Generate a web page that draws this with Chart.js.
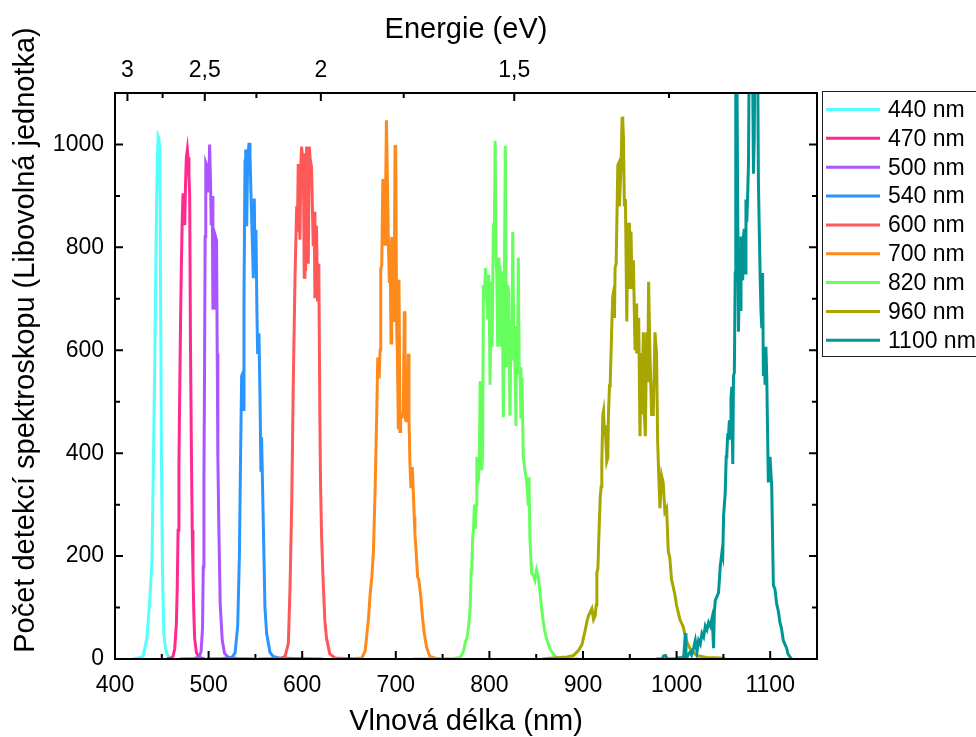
<!DOCTYPE html>
<html>
<head>
<meta charset="utf-8">
<script src="https://cdn.jsdelivr.net/npm/chart.js@4/dist/chart.umd.min.js"></script>
<style>
  html, body { margin: 0; padding: 0; background: #ffffff; overflow: hidden; }
  canvas { display: block; }
</style>
</head>
<body>
<canvas id="chart" width="976" height="737"></canvas>
<script>
// ---------------- data ----------------
const seriesLabels = ['440 nm', '470 nm', '500 nm', '540 nm', '600 nm', '700 nm', '820 nm', '960 nm', '1100 nm'];
const seriesColors = ['#55FFFF', '#FF2A8E', '#AA55FF', '#2B95FF', '#FF5858', '#FF8A1C', '#66FF5E', '#A8A600', '#009696'];

const wl440 = [419, 425, 430, 434, 437, 439.5, 441, 442.6, 444.3, 445.3, 446.1, 447, 447.9, 448.6, 449.6, 450.7, 452.1, 454, 456, 458, 460];
const v440  = [0, 2, 5, 40, 110, 190, 380, 590, 870, 980, 1015, 1010, 990, 750, 393, 179, 50, 20, 8, 3, 1];

const wl470 = [455, 460, 462, 463.8, 465.6, 466.5, 467.4, 468.3, 469.1, 470, 470.9, 471.8, 472.7, 473.6, 474.5, 475.3, 476.2, 477.3, 478, 479, 479.8, 480.6, 481.6, 482.5, 483.3, 484.2, 485.1, 487, 490, 496];
const v470  = [0, 2, 5, 20, 70, 140, 250, 380, 510, 650, 765, 850, 905, 880, 843, 920, 973, 990, 975, 940, 900, 620, 410, 250, 170, 90, 40, 12, 3, 0];

const wl500 = [469, 485, 490, 492, 493.5, 494.3, 495, 495.6, 496.3, 497, 498.3, 500, 501.1, 502.1, 502.8, 503.9, 504.6, 505.6, 506.7, 507.4, 508.5, 509.2, 509.9, 511, 512.4, 514.6, 517, 520.5, 530, 548];
const v500  = [0, 1, 4, 15, 60, 179, 350, 536, 821, 964, 957, 907, 1000, 921, 843, 900, 679, 764, 679, 821, 814, 593, 393, 250, 107, 36, 11, 4, 1, 0];

const wl540 = [498, 515, 525, 528.3, 531.1, 532.9, 534.2, 535.3, 536.4, 537.1, 537.8, 538.9, 539.6, 540.7, 541.7, 543.2, 544.2, 545.3, 546.7, 547.8, 548.8, 549.6, 550.6, 551.7, 552.4, 553.8, 554.9, 555.9, 556.6, 557.7, 558.8, 560.2, 562, 565.6, 569, 575, 590, 622];
const v540  = [0, 1, 3, 12, 65, 200, 400, 550, 555, 485, 700, 968, 990, 841, 968, 1003, 982, 901, 814, 740, 895, 767, 834, 666, 593, 633, 512, 364, 431, 330, 230, 100, 50, 13, 5, 2, 1, 0];

const wl600 = [553, 570, 578, 581.7, 585.2, 587, 588.8, 590.5, 592.3, 594.1, 594.8, 595.8, 597.6, 598.7, 599.4, 600.3, 601.2, 602.2, 602.9, 603.7, 604.7, 605.8, 606.5, 607.5, 608.6, 610, 611.8, 612.8, 613.6, 615.3, 616.4, 617.1, 617.8, 618.9, 619.6, 620.7, 622.4, 624.2, 626, 629.5, 635, 646, 663];
const v600  = [0, 1, 2, 5, 30, 140, 300, 540, 740, 880, 830, 962, 815, 970, 996, 970, 983, 742, 983, 754, 996, 916, 768, 996, 970, 956, 802, 869, 701, 842, 695, 768, 755, 466, 340, 240, 150, 75, 40, 10, 2, 1, 0];

const wl700 = [640, 656, 663.7, 667.3, 670.8, 672.6, 674.4, 676.1, 677.9, 679.7, 680.7, 681.4, 682.2, 683.2, 683.9, 685, 686.1, 687.5, 688.5, 689.3, 690, 691.4, 692.1, 693.1, 693.9, 694.9, 695.6, 696.7, 698.1, 699.2, 699.9, 700.9, 701.7, 702.7, 703.4, 704.5, 705.2, 706.3, 708, 709.1, 709.8, 710.9, 711.9, 713.4, 714.1, 715.1, 716.2, 717.6, 718.7, 719.7, 720.4, 721.5, 723.3, 724.7, 726.8, 728.3, 730.4, 732.9, 736.4, 741.7, 747];
const v700  = [0, 1, 2, 16, 78, 126, 160, 208, 330, 483, 586, 579, 545, 600, 758, 765, 930, 930, 806, 937, 1047, 889, 806, 731, 806, 614, 820, 792, 655, 999, 992, 648, 590, 449, 737, 442, 469, 470, 480, 676, 469, 463, 480, 593, 469, 380, 332, 373, 325, 277, 243, 215, 160, 153, 119, 85, 50, 23, 5, 2, 0];

const wl820 = [719, 742, 762, 768.8, 772.4, 774.3, 775.9, 777.8, 779.5, 780.6, 781.2, 782.1, 783, 784, 784.8, 785.8, 786.6, 787.4, 788.3, 789.3, 790.1, 791, 791.9, 792.8, 793.6, 794.7, 795.8, 797.2, 798.3, 799.3, 800, 800.7, 801.8, 802.9, 804.3, 805.3, 806.1, 807.1, 807.8, 808.9, 810, 810.7, 811.4, 812.4, 813.5, 814.9, 816, 817, 817.8, 818.5, 819.5, 820.6, 822, 823.1, 824.1, 824.9, 825.9, 827.3, 828.4, 829.1, 830.2, 830.9, 831.9, 832.7, 833.7, 834.8, 836.2, 838, 839.7, 841.5, 842.3, 843.3, 845.1, 846.8, 848.6, 850.4, 852.2, 853.9, 855.7, 857.5, 859.3, 861, 864.6, 868.1, 871.7, 877, 896];
const v820  = [0, 0, 1, 3, 15, 33, 40, 63, 100, 173, 180, 233, 253, 300, 253, 300, 393, 340, 350, 393, 540, 393, 367, 400, 727, 700, 760, 700, 660, 747, 660, 533, 733, 607, 847, 833, 1007, 780, 753, 607, 780, 760, 760, 607, 753, 470, 727, 997, 720, 567, 727, 713, 473, 660, 580, 830, 647, 567, 453, 647, 607, 780, 553, 567, 467, 547, 393, 367, 347, 300, 353, 233, 167, 163, 153, 173, 160, 133, 100, 73, 53, 40, 20, 10, 3, 1, 0];

const wl960 = [857, 867, 875.8, 882.9, 890, 895.3, 898.9, 900.6, 902.4, 904.2, 905.9, 907.7, 909.5, 911.3, 913, 914.1, 914.8, 915.9, 917.3, 918.4, 919.4, 920.1, 921.2, 921.9, 923, 923.7, 925.4, 926.5, 927.2, 928.3, 929, 930.8, 931.8, 932.5, 933.6, 934.3, 935.4, 937.2, 938.2, 938.9, 940.7, 941.8, 942.5, 943.2, 944.2, 945.3, 946.8, 947.8, 949.6, 950.3, 951.3, 952.4, 953.8, 955.6, 956.7, 957.4, 958.4, 959.5, 960.9, 962, 962.7, 964.5, 965.5, 966.6, 968, 969.1, 970.1, 971.5, 973.3, 975.1, 976.9, 978.6, 979.7, 980.8, 982.2, 984, 985.7, 987.5, 989.3, 991.1, 992.8, 994.6, 996.4, 998.1, 999.9, 1001.7, 1003.5, 1005.2, 1007, 1008.8, 1010.6, 1012.3, 1014.1, 1017.6, 1021.2, 1032, 1047, 1052];
const v960  = [0, 2, 3, 4, 7, 17, 28, 42, 56, 73, 84, 91, 98, 77, 84, 105, 168, 175, 258, 314, 335, 384, 475, 482, 433, 454, 384, 391, 475, 531, 531, 649, 705, 712, 663, 761, 768, 960, 964, 880, 964, 1054, 1045, 1013, 880, 894, 656, 845, 845, 719, 831, 719, 775, 600, 691, 594, 615, 663, 433, 594, 475, 635, 475, 433, 635, 538, 733, 594, 475, 475, 635, 594, 426, 363, 293, 356, 342, 286, 293, 210, 196, 154, 140, 126, 105, 91, 77, 70, 63, 49, 35, 28, 21, 14, 7, 3, 2, 0];

const wl1100 = [978, 984.6, 986, 988.1, 990, 998, 1000.5, 1005, 1007.6, 1009.4, 1010, 1011.2, 1013, 1014.7, 1016, 1018.2, 1020, 1021.8, 1023.5, 1025.3, 1027.1, 1028.9, 1030.7, 1032.4, 1034.2, 1036, 1037.8, 1038.5, 1039.5, 1040.3, 1041.3, 1043.1, 1044.8, 1046.6, 1048.4, 1049.3, 1050.2, 1051.9, 1053, 1053.7, 1054.6, 1055.5, 1056.4, 1057.3, 1058.1, 1059, 1060, 1060.8, 1061.7, 1062.6, 1063.2, 1063.6, 1064.3, 1065.2, 1066.1, 1067, 1067.9, 1068.8, 1069.7, 1070.6, 1071.4, 1072.3, 1073.2, 1074.1, 1075, 1075.9, 1076.8, 1077.8, 1078.5, 1080.3, 1081.2, 1082.1, 1083, 1083.9, 1085.6, 1086.5, 1087.4, 1088.3, 1089.2, 1090.1, 1091, 1091.9, 1092.7, 1093.6, 1094.5, 1095.4, 1096.3, 1098, 1099.8, 1101.6, 1103.4, 1105.1, 1106.9, 1108.7, 1110.4, 1112, 1114, 1117.6, 1119, 1121.1, 1123];
const v1100  = [0, 0, 6, 7, 0, 0, 2, 3, 4, 50, 0, 4, 10, 14, 8, 21, 36, 14, 36, 29, 50, 43, 64, 57, 71, 64, 79, 60, 21, 90, 114, 121, 129, 179, 207, 200, 279, 321, 393, 400, 436, 436, 464, 429, 507, 529, 379, 550, 557, 750, 1150, 1300, 1200, 900, 636, 729, 679, 821, 750, 736, 821, 836, 750, 893, 850, 900, 964, 1250, 1350, 1300, 1150, 943, 1014, 1300, 1400, 1200, 929, 836, 750, 679, 643, 750, 550, 600, 536, 607, 550, 343, 393, 336, 143, 136, 107, 93, 71, 60, 36, 21, 10, 4, 0];

const seriesX = [wl440, wl470, wl500, wl540, wl600, wl700, wl820, wl960, wl1100];
const seriesY = [v440, v470, v500, v540, v600, v700, v820, v960, v1100];

// axes
const xTickValues = [400, 500, 600, 700, 800, 900, 1000, 1100];
const xMinorTickValues = [450, 550, 650, 750, 850, 950, 1050];
const yTickValues = [0, 200, 400, 600, 800, 1000];
const yMinorTickValues = [100, 300, 500, 700, 900];
const energyTicks = [3, 2.5, 2, 1.5];
const energyTickLabels = ['3', '2,5', '2', '1,5'];
const energyMinorTicks = [2.75, 2.25, 1.75, 1.25];
const HC = 1239.84; // eV*nm, wavelength = HC / energy

const xTitle = 'Vlnová délka (nm)';
const yTitle = 'Počet detekcí spektroskopu (Libovolná jednotka)';
const topTitle = 'Energie (eV)';

// ---------------- chart ----------------
const FONT = "'Liberation Sans', Arial, Helvetica, sans-serif";
Chart.defaults.font.family = FONT;
Chart.defaults.color = '#000';

const datasets = seriesLabels.map((label, i) => ({
  label,
  data: seriesX[i].map((x, k) => ({ x, y: seriesY[i][k] })),
  borderColor: seriesColors[i],
  backgroundColor: seriesColors[i],
  borderWidth: 3,
  pointRadius: 0,
  showLine: true,
  tension: 0,
  order: seriesLabels.length - i
}));

const decor = {
  id: 'decor',
  afterDatasetsDraw(chart) {
    const { ctx, chartArea: a, scales } = chart;
    const xs = scales.x, ys = scales.y;
    const MAJ = 8, MIN = 5;
    ctx.save();
    ctx.strokeStyle = '#000';
    ctx.lineWidth = 2;
    ctx.beginPath();
    const seg = (x1, y1, x2, y2) => { ctx.moveTo(x1, y1); ctx.lineTo(x2, y2); };
    xTickValues.forEach(v => { const p = xs.getPixelForValue(v); seg(p, a.bottom, p, a.bottom - MAJ); });
    xMinorTickValues.forEach(v => { const p = xs.getPixelForValue(v); seg(p, a.bottom, p, a.bottom - MIN); });
    yTickValues.forEach(v => { const p = ys.getPixelForValue(v); seg(a.left, p, a.left + MAJ, p); seg(a.right, p, a.right - MAJ, p); });
    yMinorTickValues.forEach(v => { const p = ys.getPixelForValue(v); seg(a.left, p, a.left + MIN, p); seg(a.right, p, a.right - MIN, p); });
    energyTicks.forEach(e => { const p = xs.getPixelForValue(HC / e); seg(p, a.top, p, a.top + MAJ); });
    energyMinorTicks.forEach(e => { const p = xs.getPixelForValue(HC / e); seg(p, a.top, p, a.top + MIN); });
    ctx.stroke();
    ctx.strokeRect(a.left, a.top, a.right - a.left, a.bottom - a.top);
    ctx.restore();
  },
  afterDraw(chart) {
    const { ctx } = chart;
    ctx.save();
    // y axis title
    ctx.fillStyle = '#000';
    ctx.font = '29px ' + FONT;
    ctx.textAlign = 'center';
    ctx.textBaseline = 'middle';
    ctx.translate(26, 340);
    ctx.rotate(-Math.PI / 2);
    ctx.fillText(yTitle, 0, 0);
    ctx.restore();

    // legend
    ctx.save();
    ctx.strokeStyle = '#222';
    ctx.lineWidth = 1;
    ctx.strokeRect(822.5, 91.5, 200, 265);
    ctx.font = '23px ' + FONT;
    ctx.textAlign = 'left';
    ctx.textBaseline = 'middle';
    chart.data.datasets.forEach((ds, i) => {
      const yy = 109.5 + i * 28.85;
      ctx.strokeStyle = ds.borderColor;
      ctx.lineWidth = 3;
      ctx.beginPath();
      ctx.moveTo(826, yy);
      ctx.lineTo(880, yy);
      ctx.stroke();
      ctx.fillStyle = '#000';
      ctx.fillText(ds.label, 888, yy + 1);
    });
    ctx.restore();
  }
};

new Chart(document.getElementById('chart'), {
  type: 'scatter',
  data: { datasets },
  options: {
    responsive: false,
    animation: false,
    devicePixelRatio: 1,
    layout: { padding: { left: 0, right: 159, top: 0, bottom: 0 } },
    plugins: { legend: { display: false }, tooltip: { enabled: false } },
    scales: {
      x: {
        type: 'linear', position: 'bottom', min: 400, max: 1150,
        afterBuildTicks: s => { s.ticks = xTickValues.map(v => ({ value: v })); },
        afterFit: s => { s.height = 78; },
        grid: { display: false, drawTicks: false },
        border: { display: false },
        ticks: { font: { size: 23 }, padding: 13, maxRotation: 0, autoSkip: false, callback: v => String(v) },
        title: { display: true, text: xTitle, font: { size: 29, lineHeight: 1.05 }, padding: { top: 0, bottom: 0 } }
      },
      x2: {
        type: 'linear', position: 'top', min: 400, max: 1150,
        afterBuildTicks: s => { s.ticks = energyTicks.map(e => ({ value: HC / e })); },
        afterFit: s => { s.height = 93; },
        grid: { display: false, drawTicks: false },
        border: { display: false },
        ticks: { font: { size: 23 }, padding: 9, maxRotation: 0, autoSkip: false, callback: (v, i) => energyTickLabels[i] },
        title: { display: true, text: topTitle, font: { size: 29 }, padding: { top: 13, bottom: 0 } }
      },
      y: {
        type: 'linear', position: 'left', min: 0, max: 1100,
        afterBuildTicks: s => { s.ticks = yTickValues.map(v => ({ value: v })); },
        afterFit: s => { s.width = 115; },
        grid: { display: false, drawTicks: false },
        border: { display: false },
        ticks: { font: { size: 23 }, padding: 11, autoSkip: false, callback: v => String(v) },
        title: { display: false }
      }
    }
  },
  plugins: [decor]
});
</script>
</body>
</html>
